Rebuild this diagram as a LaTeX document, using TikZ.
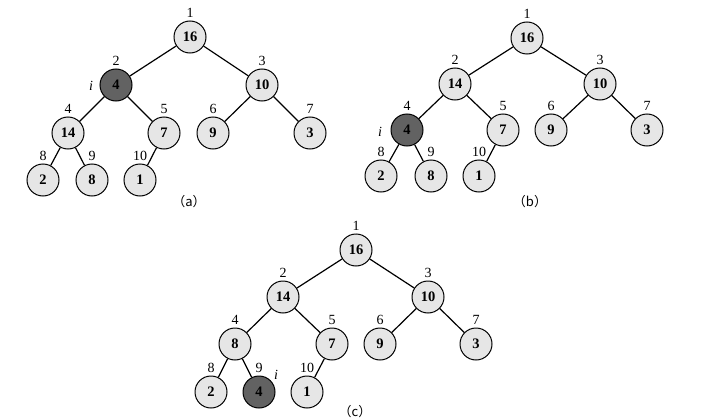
\documentclass[tikz,border=0pt]{standalone}
\usepackage{fontspec}
\setmainfont{Liberation Serif}
\newfontfamily\cjk{Noto Sans CJK SC}
\definecolor{lightnode}{HTML}{E6E6E6}
\definecolor{darknode}{HTML}{626262}
\tikzset{
  nd/.style={circle, draw=black, line width=1pt, fill=lightnode, minimum size=32pt, inner sep=0pt,
    font=\fontsize{14.5}{14.5}\selectfont\bfseries},
  dk/.style={nd, fill=darknode},
  idx/.style={inner sep=0pt, font=\fontsize{14}{14}\selectfont},
  ilab/.style={inner sep=0pt, font=\fontsize{14}{14}\selectfont\itshape},
  captxt/.style={inner sep=0pt, font=\fontsize{13}{13}\selectfont},
  conn/.style={line width=1.2pt},
  every label/.style={idx},
  label distance=3pt
}
\begin{document}
\begin{tikzpicture}[x=1pt,y=-1pt]
\useasboundingbox[fill=white] (0,0) rectangle (701,420);
% ---------- (a)
\node[nd,label=above:1] (a1) at (190,37) {16};
\node[dk,label=above:2] (a2) at (116,85) {4};
\node[nd,label=above:3] (a3) at (262,85) {10};
\node[nd,label=above:4] (a4) at (68,133) {14};
\node[nd,label=above:5] (a5) at (164,133) {7};
\node[nd,label=above:6] (a6) at (213,133) {9};
\node[nd,label=above:7] (a7) at (310,133) {3};
\node[nd,label=above:8] (a8) at (43,180) {2};
\node[nd,label=above:9] (a9) at (92,180) {8};
\node[nd,label=above:10] (a10) at (140,180) {1};
\node[ilab] (ai) at (91,86) {i};
\node[captxt] (acap) at (189,202) {\cjk{（}a\cjk{）}};
\draw[conn] (a1)--(a2) (a1)--(a3) (a2)--(a4) (a2)--(a5) (a3)--(a6) (a3)--(a7)
  (a4)--(a8) (a4)--(a9) (a5)--(a10);
% ---------- (b)
\node[nd,label=above:1] (b1) at (527,38) {16};
\node[nd,label=above:2] (b2) at (455,84) {14};
\node[nd,label=above:3] (b3) at (600,84) {10};
\node[dk,label=above:4] (b4) at (407,130) {4};
\node[nd,label=above:5] (b5) at (503,130) {7};
\node[nd,label=above:6] (b6) at (551,130) {9};
\node[nd,label=above:7] (b7) at (647,130) {3};
\node[nd,label=above:8] (b8) at (381,176) {2};
\node[nd,label=above:9] (b9) at (431,176) {8};
\node[nd,label=above:10] (b10) at (479,176) {1};
\node[ilab] (bi) at (380,132) {i};
\node[captxt] (bcap) at (530,202) {\cjk{（}b\cjk{）}};
\draw[conn] (b1)--(b2) (b1)--(b3) (b2)--(b4) (b2)--(b5) (b3)--(b6) (b3)--(b7)
  (b4)--(b8) (b4)--(b9) (b5)--(b10);
% ---------- (c)
\node[nd,label=above:1] (c1) at (356,250) {16};
\node[nd,label=above:2] (c2) at (283,297) {14};
\node[nd,label=above:3] (c3) at (428,297) {10};
\node[nd,label=above:4] (c4) at (235,344) {8};
\node[nd,label=above:5] (c5) at (332,344) {7};
\node[nd,label=above:6] (c6) at (380,344) {9};
\node[nd,label=above:7] (c7) at (476,344) {3};
\node[nd,label=above:8] (c8) at (211,392) {2};
\node[dk,label=above:9] (c9) at (259,392) {4};
\node[nd,label=above:10] (c10) at (307,392) {1};
\node[ilab] (ci) at (276,375) {i};
\node[captxt] (ccap) at (355,412) {\cjk{（}c\cjk{）}};
\draw[conn] (c1)--(c2) (c1)--(c3) (c2)--(c4) (c2)--(c5) (c3)--(c6) (c3)--(c7)
  (c4)--(c8) (c4)--(c9) (c5)--(c10);
\end{tikzpicture}
\end{document}
